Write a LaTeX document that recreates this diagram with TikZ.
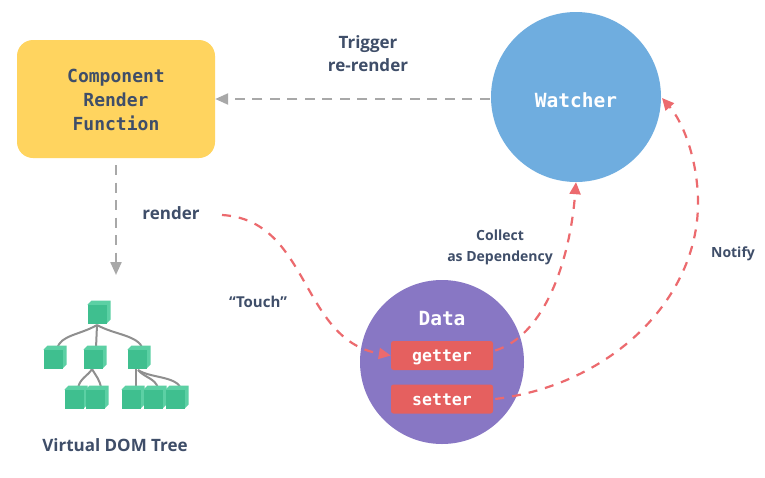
\documentclass[tikz,border=0pt]{standalone}
\usepackage{fontspec}
\setmainfont{Open Sans}
\newfontfamily\monof{DejaVu Sans Mono}
\usetikzlibrary{arrows.meta}
\definecolor{inkc}{HTML}{3F4E69}
\definecolor{yellowc}{HTML}{FFD45F}
\definecolor{bluec}{HTML}{6FADDF}
\definecolor{purplec}{HTML}{8877C4}
\definecolor{redc}{HTML}{E5605F}
\definecolor{greenc}{HTML}{3FBF8F}
\definecolor{greend}{HTML}{5CD0A4}
\definecolor{greyc}{HTML}{A8A8A8}
\definecolor{branchc}{HTML}{8F8F8F}
\definecolor{dashred}{HTML}{EC6A6E}
\tikzset{
  lab/.style={font=\bfseries\fontsize{17}{23}\selectfont,text=inkc,align=center,inner sep=0pt},
  smalllab/.style={font=\bfseries\fontsize{14}{21}\selectfont,text=inkc,align=center,inner sep=0pt},
  codelab/.style={font=\monof\bfseries\fontsize{18}{24}\selectfont,align=center,inner sep=0pt},
  ball/.style={circle,inner sep=0pt,text=white,font=\monof\bfseries\fontsize{19.5}{22}\selectfont},
  redbox/.style={rectangle,rounded corners=2.5pt,fill=redc,text=white,minimum width=102pt,minimum height=29pt,inner sep=0pt,text height=12pt,text depth=0pt,font=\monof\bfseries\fontsize{16.5}{18}\selectfont},
  cube/.style={rectangle,fill=greenc,minimum width=19pt,minimum height=19pt,inner sep=0pt},
  greydash/.style={draw=greyc,line width=2.2pt,dash pattern=on 10pt off 7.5pt,-{Triangle[length=13pt,width=11pt]}},
  reddash/.style={draw=dashred,line width=2.2pt,dash pattern=on 9pt off 8pt,-{Triangle[length=12pt,width=11pt]}},
  branch/.style={draw=branchc,line width=2pt},
}
\newcommand{\cubenode}[3]{%
  \fill[greend] (#2-9.5,#3-9.5) -- (#2-5.5,#3-13.5) -- (#2+13.5,#3-13.5) -- (#2+13.5,#3+5.5) -- (#2+9.5,#3+9.5) -- cycle;
  \node[cube] (#1) at (#2,#3) {};
}
\begin{document}
\begin{tikzpicture}[x=1pt,y=-1pt]
\useasboundingbox (0,0) rectangle (765,477);
\fill[white] (0,0) rectangle (765,477);

% main shapes
\node[rectangle,rounded corners=16pt,fill=yellowc,minimum width=198pt,minimum height=118pt,inner sep=0pt] (comp) at (116,99) {};
\node[codelab,text=inkc] (compt) at (116,100) {Component\\Render\\Function};
\node[circle,fill=bluec,minimum size=170pt,inner sep=0pt] (watcher) at (576,97) {};
\node[ball] (watchert) at (576,100) {Watcher};
\node[circle,fill=purplec,minimum size=164pt,inner sep=0pt] (data) at (442,362) {};
\node[text=white,font=\monof\bfseries\fontsize{19.5}{22}\selectfont,inner sep=0pt] (datat) at (442,319) {Data};
\node[redbox] (getter) at (442,355.5) {getter};
\node[redbox] (setter) at (442,399) {setter};

% labels
\node[lab] (trigger) at (368,53.5) {Trigger\\re-render};
\node[lab] (renderl) at (171,213) {render};
\node[smalllab,font=\bfseries\fontsize{15}{21}\selectfont] (touch) at (258,302) {``Touch''};
\node[smalllab] (collect) at (500,247) {Collect\\as Dependency};
\node[smalllab] (notify) at (733,254) {Notify};
\node[font=\bfseries\fontsize{17}{20}\selectfont,text=inkc,inner sep=0pt] (vdom) at (115,445) {Virtual DOM Tree};

% tree
\draw[branch] (97,325) -- (96,348);
\draw[branch] (97,325) .. controls (80,335) and (60,335) .. (57,349);
\draw[branch] (97,325) .. controls (115,335) and (138,335) .. (143,349);
\draw[branch] (92,369) .. controls (88,376) and (80,378) .. (78,388);
\draw[branch] (92,369) .. controls (96,376) and (100,380) .. (101,388);
\draw[branch] (136,369) -- (136,388);
\draw[branch] (138,370) .. controls (145,378) and (155,378) .. (158,388);
\draw[branch] (138,370) .. controls (150,378) and (175,376) .. (181,388);
\cubenode{t0}{97}{314}
\cubenode{t1}{53}{359}
\cubenode{t2}{93}{359}
\cubenode{t3}{137}{359}
\cubenode{t4}{74}{399}
\cubenode{t5}{95}{399}
\cubenode{t6}{131}{399}
\cubenode{t7}{153}{399}
\cubenode{t8}{175}{399}

% connectors
\coordinate (tend) at (116,275);
\coordinate (rstart) at (222,215);
\draw[greydash] (watcher.west) ++(-1,2) -- (comp.east);
\draw[greydash] (comp.south) ++(0,7) -- (tend);
\draw[reddash] (rstart) .. controls (310,220) and (300,340) .. (getter.west);
\draw[reddash] (getter.east) ++(2,-5) .. controls (545,335) and (570,260) .. (watcher.south);
\draw[reddash] (setter.east) ++(2,0) .. controls (610,385) and (698,300) .. (698,203) .. controls (698,160) and (683,122) .. (662,98);
\end{tikzpicture}
\end{document}
